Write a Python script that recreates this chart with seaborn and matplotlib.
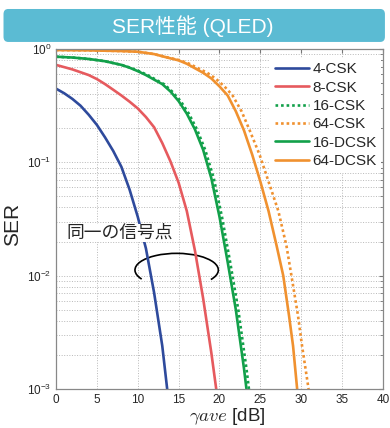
import matplotlib
matplotlib.use("Agg")
import matplotlib.pyplot as plt
from matplotlib.patches import FancyBboxPatch, Arc
import seaborn as sns
import pandas as pd

# curves (x: gamma_ave in dB, y: SER)
csk4_x = [0, 1, 2, 3, 4, 5, 6, 7, 8, 9, 10, 11, 12, 13, 13.6]
csk4_y = [0.447, 0.407, 0.363, 0.316, 0.263, 0.214, 0.166, 0.126, 0.0912, 0.0575,
          0.0331, 0.0174, 0.00708, 0.0024, 0.001]

csk8_x = [0, 1, 2, 3, 4, 5, 6, 7, 8, 9, 10, 11, 12, 13, 14, 15, 16, 17, 18, 19, 19.6]
csk8_y = [0.724, 0.692, 0.661, 0.624, 0.589, 0.543, 0.490, 0.437, 0.389, 0.343, 0.299,
          0.251, 0.204, 0.148, 0.102, 0.0661, 0.0372, 0.0166, 0.0063, 0.00209, 0.001]

csk16_x = [0, 2, 4, 6, 8, 9.1, 10.15, 11.2, 12.2, 13.2, 14.2, 15.25, 16.25, 17.25,
           18.25, 19.3, 20.3, 21.3, 22.3, 23.3, 23.6]
csk16_y = [0.855, 0.841, 0.817, 0.780, 0.724, 0.684, 0.638, 0.589, 0.537, 0.490, 0.422,
           0.347, 0.269, 0.195, 0.129, 0.0724, 0.0331, 0.0132, 0.0050, 0.00151, 0.001]

csk64_x = [0, 4, 8, 10, 12, 13.7, 15.2, 16.3, 17.4, 18.5, 19.5, 20.6, 21.6, 22.7, 23.7,
           24.9, 26.0, 27.2, 28.2, 28.8, 29.6, 30.1, 30.9]
csk64_y = [0.979, 0.973, 0.959, 0.946, 0.902, 0.841, 0.794, 0.741, 0.676, 0.617, 0.550,
           0.468, 0.389, 0.282, 0.191, 0.117, 0.0676, 0.0372, 0.0182, 0.01, 0.00447,
           0.0024, 0.001]

dcsk16_x = [0, 2, 4, 6, 8, 9, 10, 11, 12, 13, 14, 15, 16, 17, 18, 19, 20, 21, 22, 23, 23.3]
dcsk16_y = [0.855, 0.841, 0.817, 0.780, 0.724, 0.684, 0.638, 0.589, 0.537, 0.490, 0.422,
            0.347, 0.269, 0.195, 0.129, 0.0724, 0.0331, 0.0132, 0.0050, 0.00151, 0.001]

dcsk64_x = [0, 4, 8, 10, 12, 13.6, 15, 16, 17, 18, 19, 20, 21, 22, 23, 24, 25, 26, 27,
            27.8, 28.5, 29, 29.5]
dcsk64_y = [0.979, 0.973, 0.959, 0.946, 0.902, 0.841, 0.794, 0.741, 0.676, 0.617, 0.550,
            0.468, 0.389, 0.282, 0.191, 0.117, 0.0676, 0.0372, 0.0182, 0.01, 0.00447,
            0.0024, 0.001]

labels = ["4-CSK", "8-CSK", "16-CSK", "64-CSK", "16-DCSK", "64-DCSK"]
series_x = [csk4_x, csk8_x, csk16_x, csk64_x, dcsk16_x, dcsk64_x]
series_y = [csk4_y, csk8_y, csk16_y, csk64_y, dcsk16_y, dcsk64_y]
colors = ["#2E4A9C", "#E65A5E", "#12A04A", "#F0912F", "#12A04A", "#F0912F"]
dotted = [False, False, True, True, False, False]

xticks = [0, 5, 10, 15, 20, 25, 30, 35, 40]

sns.set_style("white")
plt.rcParams["font.family"] = ["Liberation Sans", "Noto Sans CJK JP", "DejaVu Sans"]

fig = plt.figure(figsize=(3.9, 4.28), dpi=100)
ax = fig.add_axes([0.1436, 0.0911, 0.8384, 0.7944])

for lab, xs, ys, col, dot in zip(labels, series_x, series_y, colors, dotted):
    df = pd.DataFrame({"x": xs, "y": ys})
    sns.lineplot(
        data=df, x="x", y="y", ax=ax, color=col, label=lab,
        linewidth=1.9, sort=False, estimator=None,
        linestyle=(0, (1, 1.1)) if dot else "-",
    )

ax.set_yscale("log")
ax.set_xlim(0, 40)
ax.set_ylim(1e-3, 1)
ax.set_xticks(xticks)

ax.grid(True, which="major", axis="both", linestyle=":", color="#b8b8b8", linewidth=0.7)
ax.grid(True, which="minor", axis="y", linestyle=":", color="#b8b8b8", linewidth=0.7)
ax.tick_params(which="both", direction="in", top=True, right=True, labelsize=8.5,
               color="#777777", length=3)
ax.tick_params(which="minor", length=2)
for s in ax.spines.values():
    s.set_color("#888888")
    s.set_linewidth(0.9)

ax.set_xlabel(r"$\gamma ave$ [dB]", fontsize=13.5, math_fontfamily="cm")
ax.xaxis.set_label_coords(0.525, -0.051)
ax.set_ylabel("SER", fontsize=15)
ax.yaxis.set_label_coords(-0.105, 0.485)

leg = ax.legend(loc="upper right", bbox_to_anchor=(0.995, 0.975), fontsize=11,
                frameon=True, fancybox=False, edgecolor="none", framealpha=1,
                handlelength=2.2, handletextpad=0.26, labelspacing=0.29,
                borderpad=0.3, borderaxespad=0)

ax.text(0.196, 0.459, "同一の信号点", transform=ax.transAxes, fontsize=12.8,
        ha="center", va="center",
        bbox=dict(facecolor="white", edgecolor="none", pad=0.5))
ax.add_patch(Arc((0.369, 0.35), 0.255, 0.098, theta1=-15, theta2=194,
                 transform=ax.transAxes, color="black", linewidth=1.2))

# header banner
fig.patches.append(FancyBboxPatch((0.009, 0.902), 0.978, 0.077,
                                  boxstyle="round,pad=0,rounding_size=0.012",
                                  transform=fig.transFigure, facecolor="#5BBBD3",
                                  edgecolor="none"))
fig.text(0.493, 0.939, "SER性能 (QLED)", color="white", fontsize=15,
         ha="center", va="center")

fig.savefig("out.png", dpi=100)
